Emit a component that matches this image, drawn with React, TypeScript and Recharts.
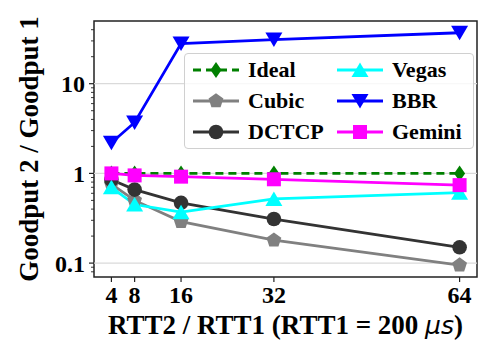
import React from "react";
import {
  LineChart,
  Line,
  XAxis,
  YAxis,
  ReferenceLine,
  ReferenceArea,
  Legend,
} from "recharts";

const rttRatio = [4, 8, 16, 32, 64];
const ideal = [1, 1, 1, 1, 1];
const cubic = [0.76, 0.5, 0.29, 0.18, 0.095];
const dctcp = [0.85, 0.66, 0.47, 0.31, 0.15];
const vegas = [0.7, 0.45, 0.37, 0.52, 0.61];
const bbr = [2.2, 3.7, 28, 31, 37];
const gemini = [1.0, 0.95, 0.92, 0.86, 0.74];

const xTicks = [4, 8, 16, 32, 64];
const yMajorTicks = [0.1, 1, 10];
const yMinorTicks = [
  0.08, 0.09, 0.2, 0.3, 0.4, 0.5, 0.6, 0.7, 0.8, 0.9, 2, 3, 4, 5, 6, 7, 8, 9, 20, 30, 40,
];

type Shape = "diamond" | "pentagon" | "circle" | "up" | "down" | "square";

interface Series {
  key: string;
  name: string;
  color: string;
  shape: Shape;
  dashed?: boolean;
}

// plotting order (legend is column-major in the same order)
const series: Series[] = [
  { key: "ideal", name: "Ideal", color: "#008000", shape: "diamond", dashed: true },
  { key: "cubic", name: "Cubic", color: "#808080", shape: "pentagon" },
  { key: "dctcp", name: "DCTCP", color: "#333333", shape: "circle" },
  { key: "vegas", name: "Vegas", color: "#00ffff", shape: "up" },
  { key: "bbr", name: "BBR", color: "#0000ff", shape: "down" },
  { key: "gemini", name: "Gemini", color: "#ff00ff", shape: "square" },
];

const data = rttRatio.map((x, i) => ({
  x,
  ideal: ideal[i],
  cubic: cubic[i],
  dctcp: dctcp[i],
  vegas: vegas[i],
  bbr: bbr[i],
  gemini: gemini[i],
}));

const SERIF = '"Liberation Serif", "Times New Roman", serif';

function Marker({ shape, cx, cy, color }: { shape: Shape; cx: number; cy: number; color: string }) {
  switch (shape) {
    case "diamond":
      return (
        <polygon
          points={`${cx},${cy - 8} ${cx + 5.5},${cy} ${cx},${cy + 8} ${cx - 5.5},${cy}`}
          fill={color}
        />
      );
    case "pentagon": {
      const pts = [0, 1, 2, 3, 4]
        .map((k) => {
          const a = -Math.PI / 2 + (k * 2 * Math.PI) / 5;
          return `${cx + 7.8 * Math.cos(a)},${cy + 7.8 * Math.sin(a)}`;
        })
        .join(" ");
      return <polygon points={pts} fill={color} />;
    }
    case "circle":
      return <circle cx={cx} cy={cy} r={7.3} fill={color} />;
    case "up":
      return (
        <polygon points={`${cx},${cy - 7.5} ${cx + 8.5},${cy + 7} ${cx - 8.5},${cy + 7}`} fill={color} />
      );
    case "down":
      return (
        <polygon points={`${cx - 8.5},${cy - 7} ${cx + 8.5},${cy - 7} ${cx},${cy + 7.5}`} fill={color} />
      );
    default:
      return <rect x={cx - 7} y={cy - 7} width={14} height={14} fill={color} />;
  }
}

function YTick(props: any) {
  const { x, y, payload } = props;
  const major = yMajorTicks.includes(payload.value);
  return (
    <g>
      <line x1={x} x2={x - (major ? 5 : 3)} y1={y} y2={y} stroke="#222" strokeWidth={major ? 1.2 : 0.9} />
      {major && (
        <text
          x={x - 9}
          y={y}
          dy="0.35em"
          textAnchor="end"
          fontFamily={SERIF}
          fontWeight="bold"
          fontSize={24}
          fill="#000"
        >
          {payload.value}
        </text>
      )}
    </g>
  );
}

function XLabel(props: any) {
  const { x, y, width } = props.viewBox;
  return (
    <text
      x={x + width / 2}
      y={y + 57}
      textAnchor="middle"
      fontFamily={SERIF}
      fontWeight="bold"
      fontSize={27}
      fill="#000"
    >
      RTT2 / RTT1 (RTT1 = 200{" "}
      <tspan fontFamily='"DejaVu Sans", sans-serif' fontStyle="italic" fontWeight="normal" fontSize={25}>
        μs
      </tspan>
      )
    </text>
  );
}

function YLabel(props: any) {
  const { x, y, height } = props.viewBox;
  const cx = x + 38;
  const cy = y + height / 2;
  return (
    <text
      x={cx}
      y={cy}
      transform={`rotate(-90, ${cx}, ${cy})`}
      textAnchor="middle"
      fontFamily={SERIF}
      fontWeight="bold"
      fontSize={27}
      fill="#000"
    >
      Goodput 2 / Goodput 1
    </text>
  );
}

function LegendBox() {
  const cols = [series.slice(0, 3), series.slice(3)];
  return (
    <div
      style={{
        boxSizing: "border-box",
        width: 290,
        height: 96,
        border: "1px solid #d0d0d0",
        borderRadius: 4,
        background: "rgba(255,255,255,0.8)",
        display: "flex",
      }}
    >
      {cols.map((col, ci) => (
        <div key={ci} style={{ width: 150 }}>
          {col.map((s) => (
            <div key={s.key} style={{ height: 31, display: "flex", alignItems: "center" }}>
              <svg width={46} height={20} style={{ marginLeft: 8, marginRight: 9 }}>
                <line
                  x1={0}
                  x2={46}
                  y1={10}
                  y2={10}
                  stroke={s.color}
                  strokeWidth={2.8}
                  strokeDasharray={s.dashed ? "8 5" : undefined}
                />
                <Marker shape={s.shape} cx={23} cy={10} color={s.color} />
              </svg>
              <span style={{ fontFamily: SERIF, fontWeight: "bold", fontSize: 22, color: "#000" }}>
                {s.name}
              </span>
            </div>
          ))}
        </div>
      ))}
    </div>
  );
}

export default function App() {
  return (
    <div style={{ position: "absolute", left: 0, top: 0, background: "#fff" }}>
      <LineChart width={498} height={363} data={data} margin={{ top: 21, right: 21, bottom: 0, left: 0 }}>
        <XAxis
          dataKey="x"
          type="number"
          domain={[1, 67]}
          ticks={xTicks}
          interval={0}
          axisLine={false}
          tickLine={{ stroke: "#222", strokeWidth: 1.2 }}
          tickSize={5}
          tickMargin={4}
          height={86}
          tick={{ fontFamily: SERIF, fontWeight: "bold", fontSize: 24, fill: "#000" }}
          label={<XLabel />}
        />
        <YAxis
          scale="log"
          type="number"
          domain={[0.07, 50]}
          allowDataOverflow
          ticks={[...yMajorTicks, ...yMinorTicks]}
          interval={0}
          axisLine={false}
          tickLine={false}
          tickSize={0}
          tickMargin={0}
          width={94}
          tick={<YTick />}
          label={<YLabel />}
        />
        {yMajorTicks.map((v) => (
          <ReferenceLine key={v} y={v} stroke="#dadada" strokeWidth={1.2} />
        ))}
        <ReferenceArea x1={1} x2={67} y1={0.07} y2={50} fill="none" stroke="#222" strokeWidth={1.5} />
        {series.map((s) => (
          <Line
            key={s.key}
            dataKey={s.key}
            name={s.name}
            stroke={s.color}
            strokeWidth={2.8}
            strokeDasharray={s.dashed ? "8 5" : undefined}
            isAnimationActive={false}
            dot={(p: any) => (
              <Marker key={`${s.key}-${p.index}`} shape={s.shape} cx={p.cx} cy={p.cy} color={s.color} />
            )}
            activeDot={false}
          />
        ))}
        <Legend
          layout="vertical"
          align="center"
          verticalAlign="middle"
          content={() => <LegendBox />}
          wrapperStyle={{ left: 184, top: 53, width: 290, height: 96 }}
        />
      </LineChart>
    </div>
  );
}
